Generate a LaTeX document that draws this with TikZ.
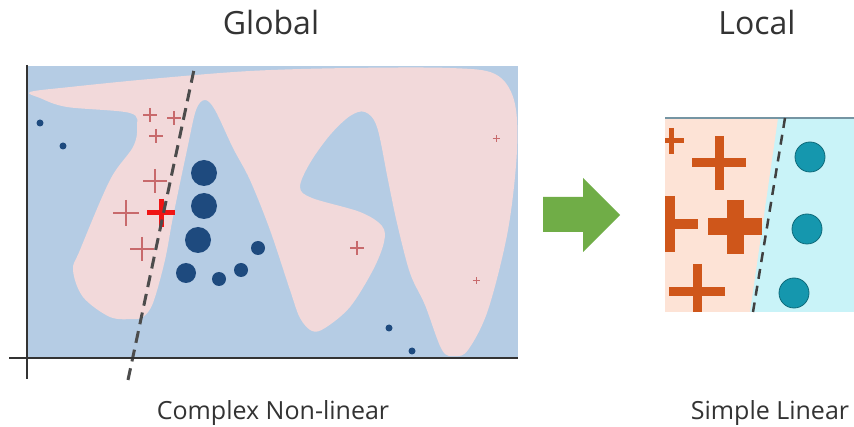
\documentclass[tikz,border=0pt]{standalone}
\usepackage{fontspec}
\setmainfont{Open Sans}
\definecolor{bgblue}{HTML}{B5CCE4}
\definecolor{pinkr}{HTML}{F2D9DA}
\definecolor{navy}{HTML}{1E4A7E}
\definecolor{plusred}{HTML}{C86A6C}
\definecolor{brightred}{HTML}{F01515}
\definecolor{peach}{HTML}{FDE3D6}
\definecolor{cyanbg}{HTML}{C9F3F8}
\definecolor{orng}{HTML}{CF561A}
\definecolor{tealdot}{HTML}{1597AE}
\definecolor{arrowgreen}{HTML}{70AD47}
\definecolor{txt}{HTML}{333333}
\tikzset{
  plusm/.pic={\draw (-1,0)--(1,0) (0,-1)--(0,1);},
  navydot/.style={fill=navy},
  tealball/.style={fill=tealdot, draw=tealdot!70!black, line width=0.8pt},
  bound/.style={line width=3pt, dash pattern=on 12pt off 7pt, color=black!70},
  title/.style={font=\fontsize{32}{36}\selectfont, text=txt, anchor=base},
  caption/.style={font=\fontsize{25}{28}\selectfont, text=txt, anchor=base},
}
\begin{document}
\begin{tikzpicture}[x=1pt,y=-1pt]
\useasboundingbox (0,0) rectangle (854,427);
\fill[white] (0,0) rectangle (854,427);
% ---------- Global panel ----------
\begin{scope}
\clip (27,66) rectangle (518,357);
\fill[bgblue] (27,66) rectangle (518,357);
\fill[pinkr] plot[smooth cycle, tension=0.55] coordinates {
 (30,92) (70,87) (150,79) (250,71) (350,68) (450,68) (495,74) (514,100) (517,150)
 (508,230) (488,310) (468,350) (455,356) (442,350) (425,305) (410,273) (397,223)
 (388,180) (377,127) (365,112) (350,116) (330,135) (310,163) (300,187) (312,198)
 (360,212) (382,226) (384,242) (373,270) (350,307) (325,328) (312,331) (300,318)
 (290,290) (270,230) (250,180) (233,148) (215,110) (205,100) (196,110) (187,150)
 (173,217) (165,260) (153,303) (143,317) (133,319) (110,317) (83,297) (73,270)
 (80,250) (110,180) (133,147) (137,127) (130,113) (67,107) (40,98)};
% dots
\fill[navydot] (40,123) circle (3.5) (63,146) circle (3.5) (389,328) circle (3.5) (412,351) circle (3.5);
\fill[navydot] (204,173) circle (13) (204,206) circle (13) (198,240) circle (13)
  (186,273) circle (10) (219,279) circle (7) (241,270) circle (7) (258,248) circle (7);
% pluses
\pic[plusred, line width=1.6pt, scale=7] at (150,115) {plusm};
\pic[plusred, line width=1.6pt, scale=7] at (174,118) {plusm};
\pic[plusred, line width=1.6pt, scale=7] at (156,136) {plusm};
\pic[plusred, line width=2pt, scale=12] at (155,181) {plusm};
\pic[plusred, line width=2pt, scale=13] at (126,213) {plusm};
\pic[plusred, line width=2pt, scale=12] at (142,249) {plusm};
\pic[plusred, line width=1.4pt, scale=7] at (357,248) {plusm};
\pic[plusred, line width=1pt, scale=3.5] at (496,139) {plusm};
\pic[plusred, line width=1pt, scale=3.5] at (476,281) {plusm};
\pic[brightred, line width=5pt, scale=14] at (161,213) {plusm};
\end{scope}
% boundary and axes
\coordinate (gbTop) at (195,65);
\coordinate (gbBot) at (128,380);
\draw[bound] (gbBot) -- (gbTop);
\coordinate (yTop) at (27,65);
\coordinate (yBot) at (27,379);
\coordinate (xL) at (9,358);
\coordinate (xR) at (518,358);
\draw[txt, line width=1.6pt] (yTop) -- (yBot);
\draw[txt, line width=1.6pt] (xL) -- (xR);
% ---------- Arrow ----------
\fill[arrowgreen] (543,197) -- (583,197) -- (583,178) -- (620,215) -- (583,252) -- (583,232) -- (543,232) -- cycle;
% ---------- Local panel ----------
\begin{scope}
\clip (665,118) rectangle (854,312);
\fill[cyanbg] (665,118) rectangle (854,312);
\fill[peach] (665,118) -- (778,118) -- (750,312) -- (665,312) -- cycle;
\pic[orng, line width=5pt, scale=13] at (671,141) {plusm};
\pic[orng, line width=9pt, scale=27] at (719,163) {plusm};
\pic[orng, line width=10pt, scale=28] at (670,224) {plusm};
\pic[orng, line width=17pt, scale=27] at (735,227) {plusm};
\pic[orng, line width=9pt, scale=28] at (697,292) {plusm};
\fill[tealball] (810,157) circle (15) (807,229) circle (15) (794,293) circle (15);
\end{scope}
\draw[color=black!25!cyan!40!gray, line width=1.2pt] (665,118) -- (854,118);
\coordinate (lbTop) at (785,118);
\coordinate (lbBot) at (753,312);
\draw[bound, line width=2.5pt, dash pattern=on 10pt off 7pt, color=black!75] (lbTop) -- (lbBot);
% ---------- Texts ----------
\node[title] (global) at (271,35) {Global};
\node[title] (local) at (757,35) {Local};
\node[caption] (cap1) at (273,420) {Complex Non-linear};
\node[caption] (cap2) at (770,420) {Simple Linear};
\end{tikzpicture}
\end{document}
